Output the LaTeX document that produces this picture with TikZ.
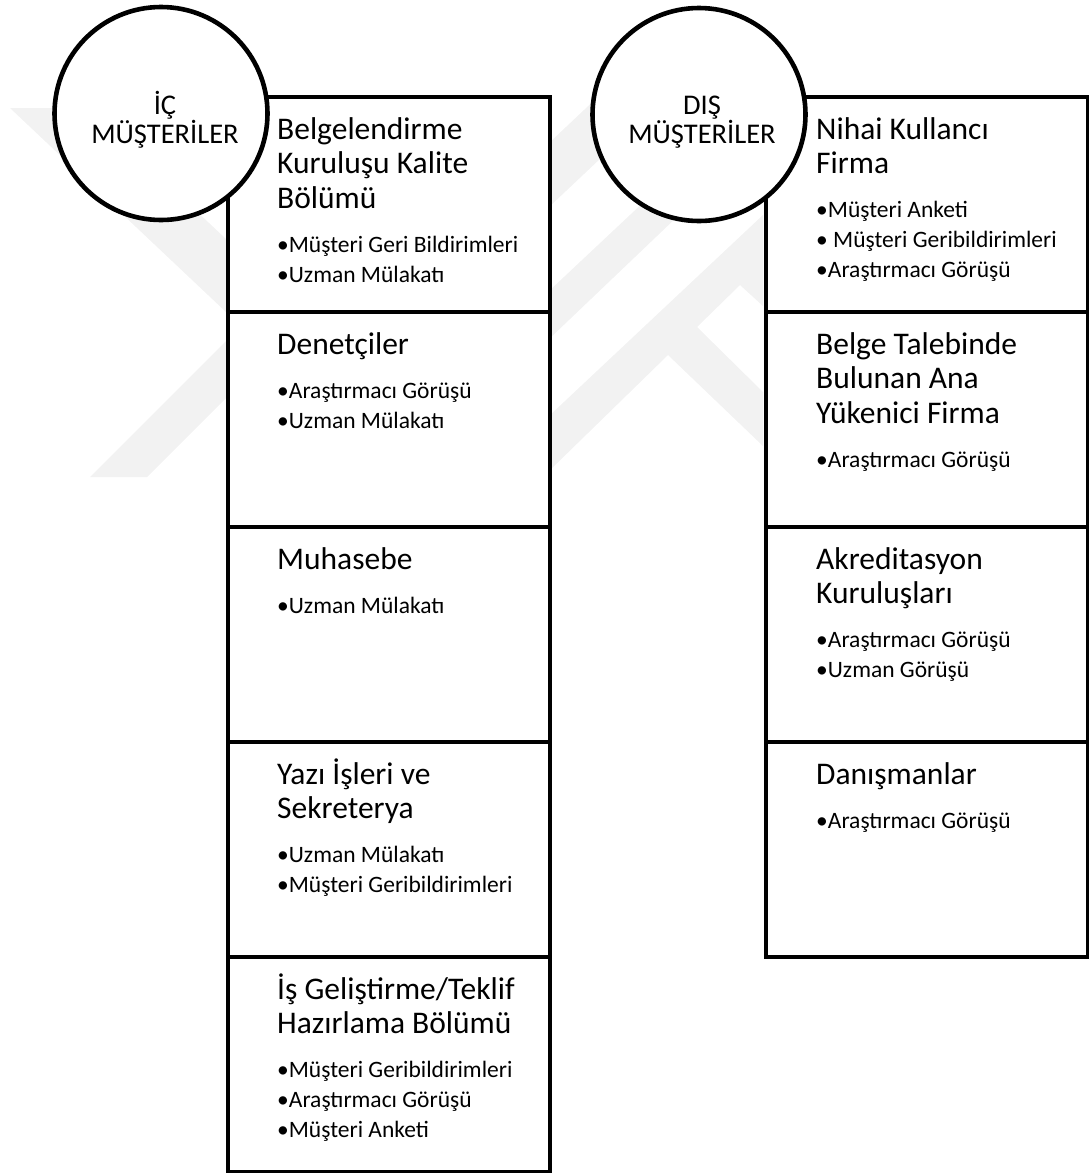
\documentclass[tikz,border=0pt]{standalone}
\usepackage{fontspec}
\setmainfont{Carlito}
% type sizes for the cells
\newcommand{\cellhead}{\fontsize{31.5}{34.5}\selectfont}
\newcommand{\cellitem}{\fontsize{23.5}{30}\selectfont}
% heading lines, then the bullet lines; baseline of the node = first heading line
\newcommand{\cellbody}[2]{\vtop{\cellhead #1\vskip 14pt\cellitem #2}}
\begin{document}
\begin{tikzpicture}[x=1pt,y=-1pt,
  cell/.style={draw=black, line width=4.2pt, fill=white, minimum width=322pt,
               minimum height=215pt, anchor=north west, inner sep=0pt},
  ring/.style={circle, draw=black, line width=4.6pt, fill=white,
               minimum size=213pt, inner sep=0pt},
  body/.style={anchor=base west, inner sep=0pt},
  ringtext/.style={anchor=base, inner sep=0pt, font=\fontsize{28.5}{28}\selectfont},
  wmark/.style={fill=black!5, draw=none}]

\useasboundingbox (0,0) rectangle (1088,1173);

% faint background emblem
\fill[wmark] (10,108) -- (87,108) -- (226,239) -- (226,312) -- cycle;
\fill[wmark] (90,477) -- (147,477) -- (226,398) -- (226,341) -- cycle;
\fill[wmark] (548,208) -- (620,140) -- (620,76) -- (548,144) -- cycle;
\fill[wmark] (548,292) -- (680,168) -- (700,195) -- (548,340) -- cycle;
\fill[wmark] (548,417) -- (763,215) -- (763,306) -- (740,285) -- (697,327)
  -- (763,392) -- (763,446) -- (668,355) -- (548,472) -- cycle;

% left column: internal customers
\node[cell] (L1) at (226,95) {};
\node[cell] (L2) at (226,310) {};
\node[cell] (L3) at (226,525) {};
\node[cell] (L4) at (226,740) {};
\node[cell] (L5) at (226,955) {};

% right column: external customers
\node[cell] (R1) at (764,95) {};
\node[cell] (R2) at (764,310) {};
\node[cell] (R3) at (764,525) {};
\node[cell] (R4) at (764,740) {};

% group circles
\node[ring] (IC) at (161,113.5) {};
\node[ring] (DIS) at (699,114.5) {};
\node[ringtext] (ICa) at (165,114) {İÇ};
\node[ringtext] (ICb) at (165,143) {MÜŞTERİLER};
\node[ringtext] (DISa) at (702,114) {DIŞ};
\node[ringtext] (DISb) at (702,143) {MÜŞTERİLER};

% cell texts, left column
\node[body] (L1t) at (277,139) {\cellbody
  {\hbox{Belgelendirme}\hbox{Kuruluşu Kalite}\hbox{Bölümü}}
  {\hbox{•Müşteri Geri Bildirimleri}\hbox{•Uzman Mülakatı}}};
\node[body] (L2t) at (277,354) {\cellbody
  {\hbox{Denetçiler}}
  {\hbox{•Araştırmacı Görüşü}\hbox{•Uzman Mülakatı}}};
\node[body] (L3t) at (277,569) {\cellbody
  {\hbox{Muhasebe}}
  {\hbox{•Uzman Mülakatı}}};
\node[body] (L4t) at (277,784) {\cellbody
  {\hbox{Yazı İşleri ve}\hbox{Sekreterya}}
  {\hbox{•Uzman Mülakatı}\hbox{•Müşteri Geribildirimleri}}};
\node[body] (L5t) at (277,999) {\cellbody
  {\hbox{İş Geliştirme/Teklif}\hbox{Hazırlama Bölümü}}
  {\hbox{•Müşteri Geribildirimleri}\hbox{•Araştırmacı Görüşü}\hbox{•Müşteri Anketi}}};

% cell texts, right column
\node[body] (R1t) at (816,139) {\cellbody
  {\hbox{Nihai Kullancı}\hbox{Firma}}
  {\hbox{•Müşteri Anketi}\hbox{• Müşteri Geribildirimleri}\hbox{•Araştırmacı Görüşü}}};
\node[body] (R2t) at (816,354) {\cellbody
  {\hbox{Belge Talebinde}\hbox{Bulunan Ana}\hbox{Yükenici Firma}}
  {\hbox{•Araştırmacı Görüşü}}};
\node[body] (R3t) at (816,569) {\cellbody
  {\hbox{Akreditasyon}\hbox{Kuruluşları}}
  {\hbox{•Araştırmacı Görüşü}\hbox{•Uzman Görüşü}}};
\node[body] (R4t) at (816,784) {\cellbody
  {\hbox{Danışmanlar}}
  {\hbox{•Araştırmacı Görüşü}}};
\end{tikzpicture}
\end{document}
